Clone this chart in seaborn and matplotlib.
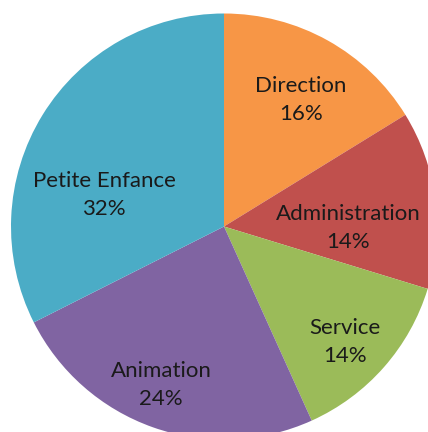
import matplotlib
matplotlib.use("Agg")
import matplotlib.pyplot as plt
import seaborn as sns

categories = ["Direction", "Administration", "Service", "Animation", "Petite Enfance"]
counts = [6, 5, 5, 9, 12]
colors = ["#F79646", "#C0504D", "#9BBB59", "#8064A2", "#4BACC6"]

# label centre positions (layout, in pie-radius units)
label_pos = [(0.362, 0.596), (0.582, -0.005), (0.568, -0.540), (-0.296, -0.742), (-0.563, 0.148)]

sns.set_theme(style="white")
plt.rcParams['font.family'] = ['Lato', 'DejaVu Sans']

W, H = 428, 432
fig = plt.figure(figsize=(W / 100, H / 100), dpi=100)
cx, cy, r = 224, 226.5, 213
ax = fig.add_axes([(cx - r) / W, (H - cy - r) / H, 2 * r / W, 2 * r / H])
ax.pie(counts, colors=colors, startangle=90, counterclock=False, radius=1,
       wedgeprops=dict(linewidth=0))
ax.set_xlim(-1, 1)
ax.set_ylim(-1, 1)
ax.set_aspect("auto")
ax.axis("off")

total = sum(counts)
for cat, v, (x, y) in zip(categories, counts, label_pos):
    ax.text(x, y, f"{cat}\n{round(100 * v / total)}%", ha="center", va="center",
            fontsize=16, color="#1a1a1a", linespacing=1.5)

fig.savefig("out.png", dpi=100)
